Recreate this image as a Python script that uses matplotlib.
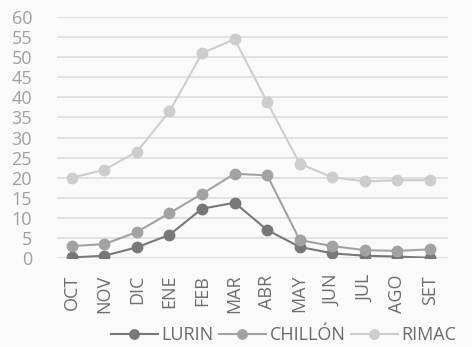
import matplotlib
matplotlib.use("Agg")
import matplotlib.pyplot as plt

months = ['OCT', 'NOV', 'DIC', 'ENE', 'FEB', 'MAR', 'ABR', 'MAY', 'JUN', 'JUL', 'AGO', 'SET']
lurin = [0.2, 0.6, 2.7, 5.8, 12.3, 13.8, 7.0, 2.8, 1.2, 0.6, 0.4, 0.1]
chillon = [3.0, 3.5, 6.5, 11.2, 16.0, 21.0, 20.6, 4.5, 3.0, 2.0, 1.8, 2.2]
rimac = [20.0, 22.0, 26.5, 36.5, 51.0, 54.5, 38.8, 23.5, 20.1, 19.1, 19.4, 19.4]

plt.rcParams['font.family'] = ['Open Sans', 'DejaVu Sans']

fig = plt.figure(figsize=(4.72, 3.47), dpi=100, facecolor='#fafafa')
ax = fig.add_axes([0.121, 0.256, 0.828, 0.695])
ax.set_facecolor('#fafafa')

x = range(len(months))
series = [(lurin, 'LURIN', '#787878'), (chillon, 'CHILLÓN', '#a2a2a2'), (rimac, 'RIMAC', '#cdcdcd')]
for vals, name, col in series:
    ax.plot(x, vals, color=col, lw=1.5, marker='o', ms=7.5, label=name)

ax.set_ylim(0, 60)
ax.set_yticks(range(0, 61, 5))
ax.set_xlim(-0.45, 11.55)
ax.set_xticks(list(x))
ax.set_xticklabels(months, rotation=90)
ax.grid(axis='y', color='#dcdcdc', lw=1.2)
ax.set_axisbelow(True)
for s in ax.spines.values():
    s.set_visible(False)
ax.tick_params(axis='y', length=0, labelsize=13, labelcolor='#a0a0a0', pad=18)
ax.tick_params(axis='x', length=0, labelsize=13, labelcolor='#6e6e6e', pad=12)

leg = fig.legend(loc='center left', bbox_to_anchor=(0.235, 0.035), ncol=3, frameon=False,
                 fontsize=13, handlelength=2.6, columnspacing=0.3, handletextpad=0.2,
                 borderaxespad=0, borderpad=0, markerscale=0.9)
for t in leg.get_texts():
    t.set_color('#6a6a6a')

fig.savefig('out.png', dpi=100, facecolor=fig.get_facecolor())
